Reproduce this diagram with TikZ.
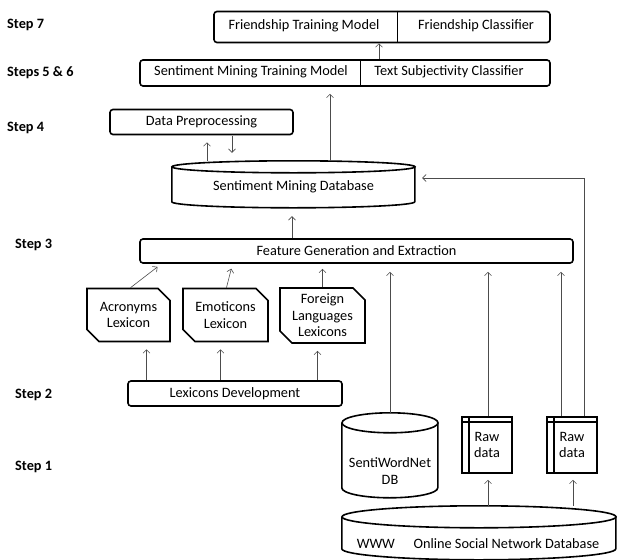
\documentclass[tikz,border=0pt]{standalone}
\usepackage{fontspec}
\setmainfont{Carlito}
\usetikzlibrary{shapes.misc,arrows.meta}

\newcommand{\dbcyl}[4]{%
    \draw[dbline] (#1.north west) ++(0,#3) -- ++(0,#4) arc[start angle=180, end angle=360, x radius=#2pt, y radius=#3pt] -- ++(0,-#4);
    \draw[dbline] ([yshift=-#3pt]#1.north) ellipse[x radius=#2pt, y radius=#3pt];}

\begin{document}
\begin{tikzpicture}[x=1pt, y=-1pt, inner sep=0pt, font=\fontsize{14.3}{16.5}\selectfont]
    \tikzstyle{box}=[rectangle, rounded corners=3pt, draw=black, line width=1.6pt]
    \tikzstyle{lex}=[chamfered rectangle, chamfered rectangle corners={north east,south west}, chamfered rectangle xsep=6pt, chamfered rectangle ysep=6pt, draw=black, line width=1.6pt, align=center]
    \tikzstyle{db}=[rectangle, align=center]
    \tikzstyle{dbline}=[draw=black, line width=1.6pt]
    \tikzstyle{raw}=[rectangle, draw=black, line width=1.6pt, align=center, minimum width=50pt, minimum height=56pt,
        path picture={\draw[line width=1.6pt] ([xshift=7pt]path picture bounding box.north west) -- ([xshift=7pt]path picture bounding box.south west);
                      \draw[line width=1.2pt] ([yshift=-5pt]path picture bounding box.north west) -- ([yshift=-5pt]path picture bounding box.north east);}]
    \tikzstyle{arr}=[-{Straight Barb[length=3.5pt, width=7pt]}, draw=black!70, line width=0.6pt]
    \tikzstyle{steplbl}=[anchor=west, font=\fontsize{14.3}{16.5}\selectfont\bfseries]

    \useasboundingbox (0,0) rectangle (619,560);

    \node[steplbl] (l7) at (7,25) {Step 7};
    \node[steplbl] (l56) at (7,73) {Steps 5 \& 6};
    \node[steplbl] (l4) at (7,128) {Step 4};
    \node[steplbl] (l3) at (15,245) {Step 3};
    \node[steplbl] (l2) at (15,395) {Step 2};
    \node[steplbl] (l1) at (15,467) {Step 1};

    \node[box, minimum width=336pt, minimum height=31pt] (s7) at (382,27) {};
    \node (ftm) at (304,26) {Friendship Training Model};
    \node (fcl) at (476,26) {Friendship Classifier};
    \coordinate (d7) at (397,27);
    \draw[line width=0.8pt] (d7 |- s7.north) -- (d7 |- s7.south);

    \node[box, minimum width=410pt, minimum height=26pt] (s56) at (345,73) {};
    \node (smtm) at (251,72) {Sentiment Mining Training Model};
    \node (tsc) at (449,72) {Text Subjectivity Classifier};
    \coordinate (d56) at (360,73);
    \draw[line width=0.8pt] (d56 |- s56.north) -- (d56 |- s56.south);

    \node[box, minimum width=183pt, minimum height=25pt] (dp) at (201.5,122) {Data Preprocessing};
    \node[db, minimum width=243pt, minimum height=47pt] (smdb) at (293.5,184.5) {};
    \dbcyl{smdb}{121.5}{6}{35}
    \node (smdbt) at (293.5,187) {Sentiment Mining Database};
    \node[box, minimum width=433pt, minimum height=24pt] (feat) at (356.5,251) {Feature Generation and Extraction};

    \node[lex, minimum width=83pt, minimum height=53pt] (acr) at (128.5,315) {Acronyms\\Lexicon};
    \node[lex, minimum width=85pt, minimum height=53pt] (emo) at (225.5,315) {Emoticons\\Lexicon};
    \node[lex, minimum width=85pt, minimum height=55pt] (flx) at (322.5,315.5) {Foreign\\Languages\\Lexicons};
    \node[box, minimum width=214pt, minimum height=25pt] (ldev) at (235,393.5) {Lexicons Development};

    \node[db, minimum width=96pt, minimum height=85pt] (swn) at (390,455.5) {};
    \dbcyl{swn}{48}{10}{65}
    \node[align=center] (swnt) at (390,471) {SentiWordNet\\DB};
    \node[raw] (raw1) at (487,445) {Raw\\data};
    \node[raw] (raw2) at (572,445) {Raw\\data};
    \node[db, minimum width=274pt, minimum height=54pt] (osn) at (479,533) {};
    \dbcyl{osn}{137}{11}{32}
    \node (osnt) at (478,544) {WWW\hspace{1.3em}Online Social Network Database};

    \coordinate (c1) at (379,0);
    \coordinate (c2) at (330,0);
    \coordinate (c3) at (207,0);
    \coordinate (c4) at (232,0);
    \coordinate (c5) at (292,0);
    \coordinate (c6) at (390,0);
    \coordinate (c7) at (488,0);
    \coordinate (c8) at (561,0);
    \coordinate (c9) at (584,0);
    \coordinate (c10) at (573,0);

    \draw[arr] (s56.north -| c1) -- (s7.south -| c1);
    \draw[arr, shorten >=7pt] (smdb.north -| c2) -- (s56.south -| c2);
    \draw[arr, shorten >=7pt] (smdb.north -| c3) -- (dp.south -| c3);
    \draw[arr, shorten <=1pt, shorten >=8pt] (dp.south -| c4) -- (smdb.north -| c4);
    \draw[arr, shorten >=8pt] (feat.north -| c5) -- (smdb.south -| c5);

    \draw[arr, shorten >=5pt] ([xshift=2pt]acr.north) -- ([xshift=-195pt]feat.south);
    \draw[arr, shorten >=5pt] ([xshift=1pt]emo.north) -- ([xshift=-124pt]feat.south);
    \draw[arr, shorten >=5pt] (flx.north) -- (feat.south -| flx.north);
    \draw[arr] (ldev.north -| acr.north) ++(18pt,0) -- ([xshift=18pt,yshift=-7pt]acr.south);
    \draw[arr] (ldev.north -| emo.north) ++(-5pt,0) -- ([xshift=-5pt,yshift=-7pt]emo.south);
    \draw[arr] (ldev.north -| flx.north) ++(-5pt,0) -- ([xshift=-5pt,yshift=-7pt]flx.south);

    \draw[arr, shorten >=8pt] (swn.north -| c6) -- (feat.south -| c6);
    \draw[arr, shorten >=8pt] (raw1.north -| c7) -- (feat.south -| c7);
    \draw[arr, shorten >=8pt] (raw2.north -| c8) -- (feat.south -| c8);
    \draw[arr, shorten >=7pt] (raw2.north -| c9) |- ([yshift=6.5pt]smdb.east);
    \draw[arr, shorten >=6pt] (osn.north -| c7) -- (raw1.south -| c7);
    \draw[arr, shorten >=6pt] (osn.north -| c10) -- (raw2.south -| c10);
\end{tikzpicture}
\end{document}
